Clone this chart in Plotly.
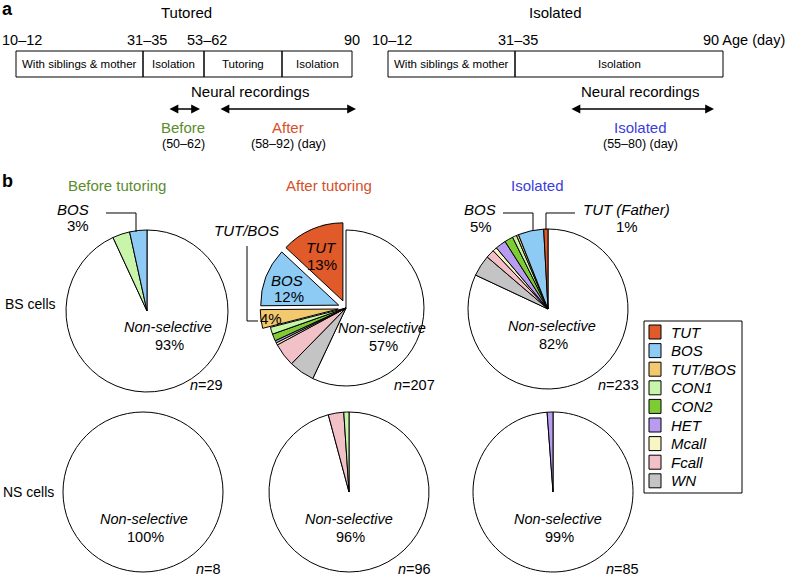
import plotly.graph_objects as go

W, H = 788, 580
FONT = "Liberation Sans, Arial, Helvetica, sans-serif"

# ---------------- data ----------------
categories = ["TUT", "BOS", "TUT/BOS", "CON1", "CON2", "HET", "Mcall", "Fcall", "WN", "Non-selective"]
slice_colors = ["#e05a2a", "#8dcaf4", "#f2c96f", "#c8f5aa", "#7dcc34", "#b89cf2", "#f7f5c2", "#f2c1c8", "#c4c4c4", "#ffffff"]

before_bs = [0, 1, 0, 1, 0, 0, 0, 0, 0, 27]
after_bs = [27, 25, 8, 3, 3, 1, 1, 10, 11, 118]
isolated_bs = [2, 12, 1, 2, 4, 5, 2, 4, 10, 191]
before_ns = [0, 0, 0, 0, 0, 0, 0, 0, 0, 8]
after_ns = [0, 0, 0, 1, 0, 0, 0, 3, 0, 92]
isolated_ns = [0, 0, 0, 0, 0, 1, 0, 0, 0, 84]

after_bs_pull = [0.1, 0.1, 0.1, 0, 0, 0, 0, 0, 0, 0]

ns_pct = {"before_bs": "93%", "after_bs": "57%", "isolated_bs": "82%",
          "before_ns": "100%", "after_ns": "96%", "isolated_ns": "99%"}
n_cells = {"before_bs": 29, "after_bs": 207, "isolated_bs": 233,
           "before_ns": 8, "after_ns": 96, "isolated_ns": 85}

timeline_tut_ticks = ["10–12", "31–35", "53–62", "90"]
timeline_iso_ticks = ["10–12", "31–35", "90 Age (day)"]
timeline_tut_phases = ["With siblings & mother", "Isolation", "Tutoring", "Isolation"]
timeline_iso_phases = ["With siblings & mother", "Isolation"]

# ---------------- helpers ----------------
def px(x):
    return x / W


def py(y):
    return 1 - y / H


fig = go.Figure()
annotations = []
shapes = []


def txt(x, y, text, size=14, color="black", xanchor="center", italic=False, bold=False):
    if italic:
        text = "<i>" + text + "</i>"
    if bold:
        text = "<b>" + text + "</b>"
    annotations.append(dict(x=px(x), y=py(y), xref="paper", yref="paper", text=text,
                            showarrow=False, xanchor=xanchor, yanchor="middle",
                            font=dict(family=FONT, size=size, color=color)))


def rect(x0, y0, x1, y1, fill="rgba(0,0,0,0)", width=1):
    shapes.append(dict(type="rect", xref="paper", yref="paper", x0=px(x0), y0=py(y0),
                       x1=px(x1), y1=py(y1), fillcolor=fill, line=dict(color="black", width=width)))


def poly(points):
    path = "M " + " L ".join("%f %f" % (px(x), py(y)) for x, y in points)
    shapes.append(dict(type="path", xref="paper", yref="paper", path=path,
                       line=dict(color="black", width=1)))


def darrow(x0, x1, y):
    annotations.append(dict(x=px(x1), y=py(y), xref="paper", yref="paper", text="",
                            showarrow=True, ax=x0 - x1, ay=0, axref="pixel", ayref="pixel",
                            arrowside="end+start", arrowhead=2, arrowsize=1.1, arrowwidth=1.6,
                            arrowcolor="black", standoff=0, startstandoff=0))


def add_pie(values, cx, cy, r, pull=None):
    # slices run counter-clockwise from 12 o'clock in category order;
    # drawn clockwise in reversed order so that the last one ends at 12 o'clock
    idx = [i for i, v in enumerate(values) if v > 0][::-1]
    maxpull = max(pull) if pull else 0
    R = r * (1 + maxpull)
    fig.add_trace(go.Pie(
        labels=[categories[i] for i in idx],
        values=[values[i] for i in idx],
        marker=dict(colors=[slice_colors[i] for i in idx], line=dict(color="black", width=1)),
        pull=[pull[i] for i in idx] if pull else 0,
        sort=False, direction="clockwise", rotation=0,
        textinfo="none", hoverinfo="skip", showlegend=False,
        domain=dict(x=[(cx - R) / W, (cx + R) / W], y=[1 - (cy + R) / H, 1 - (cy - R) / H]),
    ))


# ---------------- panel a ----------------
txt(8, 9, "a", size=18, bold=True)
txt(186, 12, "Tutored", size=15)
txt(555, 12, "Isolated", size=15)

for t, x in zip(timeline_tut_ticks, [22, 147, 207, 352]):
    txt(x, 40, t, size=14.5)
for t, x in zip(timeline_iso_ticks[:2], [392, 518]):
    txt(x, 40, t, size=14.5)
txt(787, 40, timeline_iso_ticks[2], size=14.5, xanchor="right")

bounds_tut = [16, 143, 204, 282, 352]
for i, lab in enumerate(timeline_tut_phases):
    rect(bounds_tut[i], 51, bounds_tut[i + 1], 77)
    txt((bounds_tut[i] + bounds_tut[i + 1]) / 2, 64, lab, size=11.5)
bounds_iso = [388, 515, 723]
for i, lab in enumerate(timeline_iso_phases):
    rect(bounds_iso[i], 51, bounds_iso[i + 1], 77)
    txt((bounds_iso[i] + bounds_iso[i + 1]) / 2, 64, lab, size=11.5)

txt(250, 91, "Neural recordings", size=15)
txt(640, 91, "Neural recordings", size=15)
darrow(168, 200, 109)
darrow(219, 356, 109)
darrow(570, 714, 109)
txt(183, 127, "Before", size=15, color="#5b8c2e")
txt(183, 144, "(50–62)", size=12.5)
txt(288, 127, "After", size=15, color="#d4502a")
txt(288, 144, "(58–92) (day)", size=12.5)
txt(640, 127, "Isolated", size=15, color="#3c3cdc")
txt(640, 144, "(55–80) (day)", size=12.5)

# ---------------- panel b ----------------
txt(7, 181, "b", size=18, bold=True)
txt(117, 186, "Before tutoring", size=15, color="#5b8c2e")
txt(329, 186, "After tutoring", size=15, color="#d4502a")
txt(537, 186, "Isolated", size=15, color="#3c3cdc")
txt(30, 304, "BS cells", size=14)
txt(28, 492, "NS cells", size=14)

pies = [
    ("before_bs", before_bs, 147, 311, 81, None),
    ("after_bs", after_bs, 346, 308, 78, after_bs_pull),
    ("isolated_bs", isolated_bs, 548, 309, 80, None),
    ("before_ns", before_ns, 143, 492, 80, None),
    ("after_ns", after_ns, 349, 492, 80, None),
    ("isolated_ns", isolated_ns, 553, 492, 80, None),
]
for key, vals, cx, cy, r, pull in pies:
    add_pie(vals, cx, cy, r, pull)

# Non-selective labels and n
ns_lab_pos = {"before_bs": (168, 327), "after_bs": (382, 328), "isolated_bs": (552, 326),
              "before_ns": (144, 519), "after_ns": (349, 519), "isolated_ns": (558, 519)}
n_pos = {"before_bs": (206, 385), "after_bs": (414, 385), "isolated_bs": (618, 385),
         "before_ns": (208, 569), "after_ns": (414, 569), "isolated_ns": (622, 569)}
for key in ns_lab_pos:
    x, y = ns_lab_pos[key]
    txt(x, y, "Non-selective", size=14.5, italic=True)
    txt(x + 1, y + 18, ns_pct[key], size=14.5)
    nx, ny = n_pos[key]
    txt(nx, ny, "<i>n</i>=%d" % n_cells[key], size=14.5)

# before BS callout
txt(73, 209, "BOS", size=15, italic=True)
txt(78, 225, "3%", size=15)
poly([(106, 213), (136, 213), (136, 232)])

# after BS labels
txt(246, 231, "TUT/BOS", size=15, italic=True)
poly([(247, 246), (247, 321), (258, 321)])
txt(321, 247, "TUT", size=15, italic=True)
txt(322, 264, "13%", size=15)
txt(287, 280, "BOS", size=15, italic=True)
txt(289, 296, "12%", size=15)
txt(271, 318, "4%", size=15)

# isolated BS callouts
txt(480, 209, "BOS", size=15, italic=True)
txt(481, 226, "5%", size=15)
poly([(503, 213), (533, 213), (533, 231)])
txt(626, 209, "TUT (Father)", size=15, italic=True)
txt(627, 227, "1%", size=15)
poly([(546, 230), (546, 213), (575, 213)])

# legend
rect(644, 321, 742, 493)
for i, (cat, col) in enumerate(zip(categories[:9], slice_colors[:9])):
    yc = 332 + i * 18.6
    rect(649, yc - 7, 661, yc + 7, fill=col)
    txt(669, yc, cat, size=15, italic=True, xanchor="left")

fig.update_layout(
    width=W, height=H,
    margin=dict(l=0, r=0, t=0, b=0),
    paper_bgcolor="white", plot_bgcolor="white",
    showlegend=False,
    annotations=annotations,
    shapes=shapes,
)

fig.write_html("out.html", config={"displayModeBar": False},
               post_script="document.body.style.margin='0';document.body.style.overflow='hidden';")
